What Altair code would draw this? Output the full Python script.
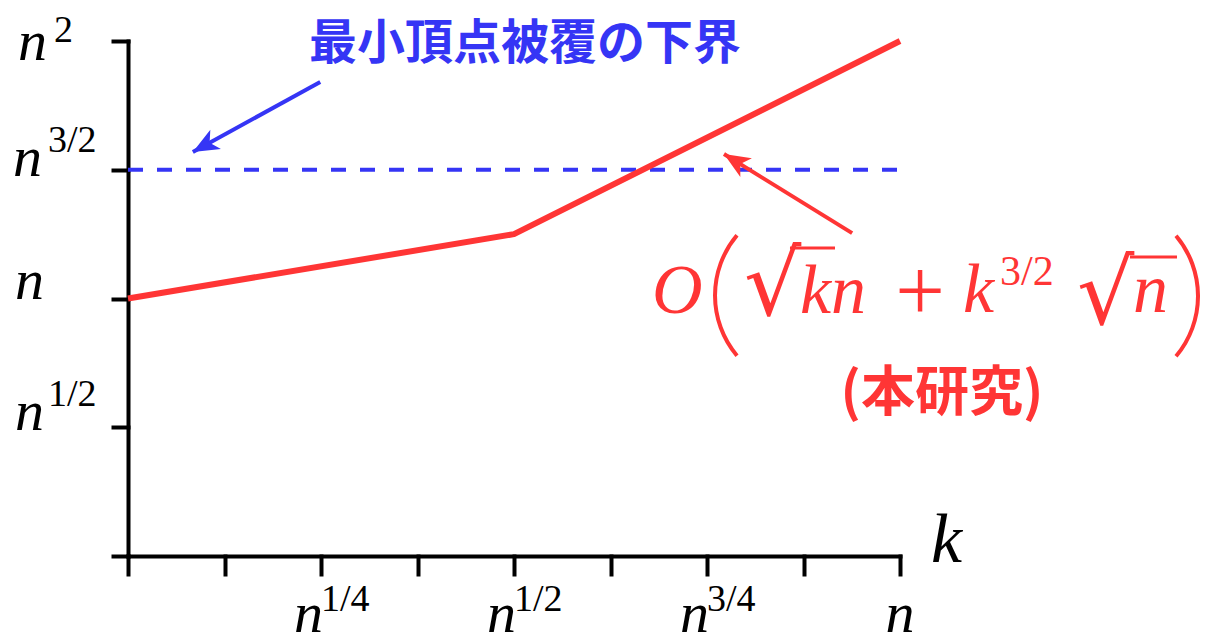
import math
import altair as alt
import pandas as pd

# ---------------- data (exponents of n) ----------------
k_exp = [0.0, 0.5, 1.0]          # k = n^x
time_exp = [1.0, 1.25, 2.0]      # O(sqrt(k) n + k^{3/2} sqrt(n)) = n^y
lb_k = [0.0, 1.0]
lb_time = [1.5, 1.5]             # lower bound n^{3/2}

x_ticks = [0, 0.125, 0.25, 0.375, 0.5, 0.625, 0.75, 0.875, 1.0]
y_ticks = [0, 0.5, 1.0, 1.5, 2.0]
x_label_vals = [0.25, 0.5, 0.75, 1.0]
x_label_sups = ["1/4", "1/2", "3/4", ""]
y_label_vals = [0.5, 1.0, 1.5, 2.0]
y_label_sups = ["1/2", "", "3/2", "2"]

title_text = "最小頂点被覆の下界"
ours_text = "(本研究)"

# ---------------- styles ----------------
RED = "#FF3535"
BLUE = "#3535F5"
W, H = 772, 515
X_DOM = [0, 1]
Y_DOM = [0, 2]
SERIF = "Liberation Serif"
CJK = "Noto Sans CJK JP"

xs = alt.Scale(domain=X_DOM, nice=False, zero=False)
ys = alt.Scale(domain=Y_DOM, nice=False, zero=False)
XP = W / (X_DOM[1] - X_DOM[0])
YP = H / (Y_DOM[1] - Y_DOM[0])

axis_common = dict(labels=False, title=None, grid=False, ticks=True,
                   tickWidth=4, tickColor="black", domainWidth=4,
                   domainColor="black", domainCap="square", tickCap="square")

red_df = pd.DataFrame({"k": k_exp, "t": time_exp})
main = alt.Chart(red_df).mark_line(color=RED, strokeWidth=6, strokeJoin="round").encode(
    x=alt.X("k:Q", scale=xs, axis=alt.Axis(values=x_ticks, tickSize=18, **axis_common)),
    y=alt.Y("t:Q", scale=ys, axis=alt.Axis(values=y_ticks, tickSize=15, **axis_common)),
)

lb_df = pd.DataFrame({"k": lb_k, "t": lb_time})
lb = alt.Chart(lb_df).mark_line(color=BLUE, strokeWidth=4, strokeDash=[15, 14]).encode(
    x=alt.X("k:Q", scale=xs), y=alt.Y("t:Q", scale=ys))

# ---------------- arrows ----------------
arrows = pd.DataFrame({
    "x0": [0.249, 0.938], "y0": [1.841, 1.254],
    "x1": [0.084, 0.772], "y1": [1.569, 1.561],
    "c": [BLUE, RED],
})
arrows["ang"] = [
    math.degrees(math.atan2((r.x1 - r.x0) * XP, (r.y1 - r.y0) * YP)) % 360
    for r in arrows.itertuples()
]
shaft = alt.Chart(arrows).mark_rule(strokeWidth=4).encode(
    x=alt.X("x0:Q", scale=xs), y=alt.Y("y0:Q", scale=ys),
    x2="x1:Q", y2="y1:Q", color=alt.Color("c:N", scale=None))
HEAD = "M0,0 L0.72,1.7 L0,1.25 L-0.72,1.7 Z"
head = alt.Chart(arrows).mark_point(shape=HEAD, filled=True, size=936, opacity=1, strokeWidth=0).encode(
    x=alt.X("x1:Q", scale=xs), y=alt.Y("y1:Q", scale=ys),
    angle=alt.Angle("ang:Q", scale=None), color=alt.Color("c:N", scale=None))

layers = [lb, main, shaft, head]


def txt(x, y, s, size, color="black", align="left", dx=0, dy=0,
        italic=False, bold=False, font=SERIF):
    df = pd.DataFrame({"x": [x], "y": [y], "s": [s]})
    kw = dict(align=align, baseline="alphabetic", fontSize=size, color=color,
              font=font, dx=dx, dy=dy)
    if italic:
        kw["fontStyle"] = "italic"
    if bold:
        kw["fontWeight"] = "bold"
    return alt.Chart(df).mark_text(**kw).encode(
        x=alt.X("x:Q", scale=xs), y=alt.Y("y:Q", scale=ys), text="s:N")


# ---------------- axis labels ----------------
y_dy_base = [3, 0, 6, 19]
y_dy_sup = [-21, 0, -18, 1]
y_dx_base = [-113, -113, -115, -110]
y_dx_sup = [-80, -80, -80, -74]
for v, sup, db, ds, xb, xsu in zip(y_label_vals, y_label_sups, y_dy_base, y_dy_sup, y_dx_base, y_dx_sup):
    layers.append(txt(0, v, "n", 58, dx=xb, dy=db, italic=True))
    if sup:
        layers.append(txt(0, v, sup, 38, dx=xsu, dy=ds))

for v, sup in zip(x_label_vals, x_label_sups):
    if sup:
        layers.append(txt(v, 0, "n", 58, align="right", dx=2, dy=76, italic=True))
        layers.append(txt(v, 0, sup, 38, align="left", dx=0, dy=55))
    else:
        layers.append(txt(v, 0, "n", 58, align="center", dx=0, dy=76, italic=True))

layers.append(txt(1.0, 0, "k", 70, dx=31, dy=6, italic=True))

# ---------------- annotations ----------------
layers.append(txt(0.5142, 1.930, title_text, 48, color=BLUE, align="center", bold=True, font=CJK))
layers.append(txt(1.0544, 0.563, ours_text, 54, color=RED, align="center", bold=True, font=CJK))

layers.append(txt(0.6788, 0.9437, "O", 70, color=RED, italic=True))
layers.append(txt(0.7979, 0.9359, "√", 90, color=RED, font="DejaVu Sans"))
layers.append(txt(0.8705, 0.9437, "kn", 70, color=RED, italic=True))
layers.append(txt(1.0259, 0.9146, "+", 88, color=RED, align="center"))
layers.append(txt(1.0816, 0.9476, "k", 70, color=RED, italic=True))
layers.append(txt(1.1295, 1.0524, "3/2", 42, color=RED))
layers.append(txt(1.2293, 0.9010, "√", 90, color=RED, font="DejaVu Sans"))
layers.append(txt(1.3018, 0.9476, "n", 70, color=RED, italic=True))

bars = pd.DataFrame({"x0": [0.8575, 1.2979], "x1": [0.9158, 1.3588], "y": [1.1961, 1.1612]})
layers.append(alt.Chart(bars).mark_rule(color=RED, strokeWidth=3).encode(
    x=alt.X("x0:Q", scale=xs), x2="x1:Q", y=alt.Y("y:Q", scale=ys)))

parens = pd.DataFrame({"x": [0.8815], "y": [1.0117]})
layers.append(alt.Chart(parens).mark_arc(color=RED, innerRadius=91.5, outerRadius=95.5,
                                         theta=3 * math.pi / 2 - 0.70, theta2=3 * math.pi / 2 + 0.70).encode(
    x=alt.X("x:Q", scale=xs), y=alt.Y("y:Q", scale=ys)))
parens2 = pd.DataFrame({"x": [1.2649], "y": [1.0097]})
layers.append(alt.Chart(parens2).mark_arc(color=RED, innerRadius=91.5, outerRadius=95.5,
                                          theta=math.pi / 2 - 0.70, theta2=math.pi / 2 + 0.70).encode(
    x=alt.X("x:Q", scale=xs), y=alt.Y("y:Q", scale=ys)))

chart = alt.layer(*layers).properties(
    width=W, height=H,
    autosize=alt.AutoSizeParams(type="none"),
    padding={"left": 120, "top": 33, "right": 300, "bottom": 82},
    background="white",
).configure_view(stroke=None)

chart.save("out.html", embed_options={"renderer": "svg", "actions": False})
